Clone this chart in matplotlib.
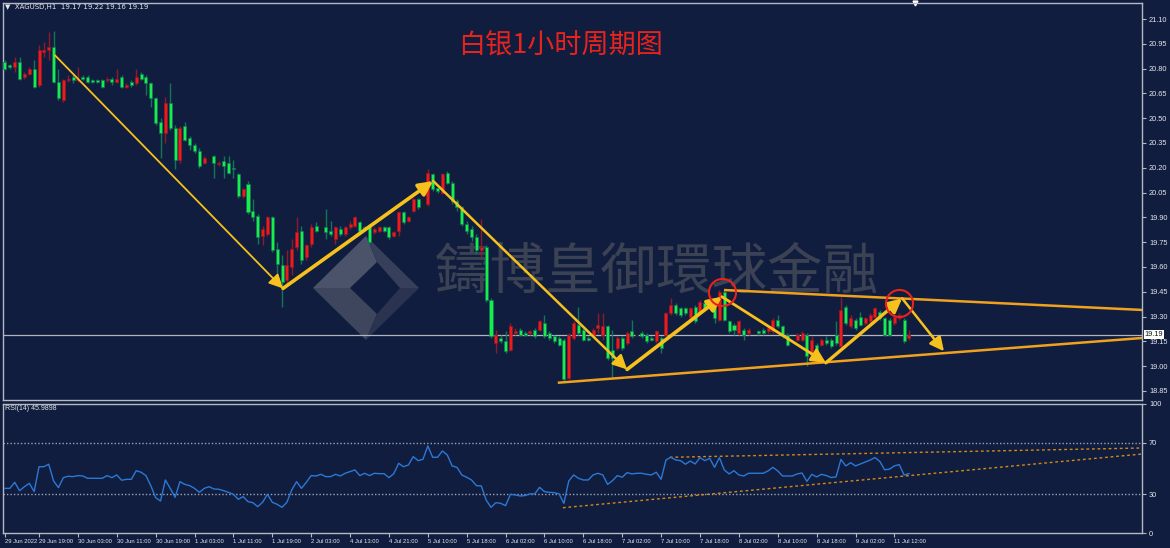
import numpy as np
import matplotlib.pyplot as plt
import matplotlib.transforms as mtransforms
from matplotlib.patches import Polygon

# ---- data (XAGUSD H1, 29 Jun - 11 Jul 2022) ----
opens = [
    20.84, 20.82, 20.81, 20.84, 20.75, 20.77, 20.80, 20.70, 20.90, 20.91,
    20.93, 20.72, 20.61, 20.73, 20.75, 20.73, 20.75, 20.75, 20.73, 20.73,
    20.73, 20.73, 20.74, 20.72, 20.75, 20.69, 20.72, 20.71, 20.77, 20.75,
    20.71, 20.62, 20.48, 20.41, 20.59, 20.44, 20.25, 20.45, 20.38, 20.34,
    20.30, 20.23, 20.26, 20.27, 20.22, 20.24, 20.23, 20.20, 20.16, 20.03,
    20.10, 19.94, 19.91, 19.79, 19.80, 19.90, 19.71, 19.61, 19.52, 19.60,
    19.72, 19.82, 19.66, 19.74, 19.85, 19.82, 19.84, 19.82, 19.77, 19.83,
    19.80, 19.84, 19.85, 19.87, 19.84, 19.85, 19.81, 19.82, 19.84, 19.84,
    19.79, 19.82, 19.93, 19.88, 19.94, 20.01, 19.99, 19.98, 20.16, 20.08,
    20.05, 20.17, 20.11, 20.00, 19.96, 19.86, 19.83, 19.78, 19.70, 19.72,
    19.40, 19.14, 19.17, 19.15, 19.10, 19.20, 19.22, 19.20, 19.20, 19.22,
    19.22, 19.26, 19.20, 19.18, 19.17, 19.16, 18.93, 19.17, 19.25, 19.22,
    19.17, 19.19, 19.23, 19.19, 19.24, 19.10, 19.11, 19.17, 19.14, 19.21,
    19.19, 19.20, 19.19, 19.17, 19.15, 19.17, 19.19, 19.32, 19.37, 19.35,
    19.35, 19.30, 19.36, 19.33, 19.38, 19.36, 19.35, 19.28, 19.45, 19.27,
    19.25, 19.20, 19.22, 19.20, 19.21, 19.21, 19.22, 19.21, 19.21, 19.28,
    19.24, 19.19, 19.15, 19.16, 19.16, 19.19, 19.07, 19.13, 19.13, 19.16,
    19.16, 19.19, 19.12, 19.36, 19.24, 19.28, 19.30, 19.26, 19.27, 19.30,
    19.33, 19.29, 19.28, 19.26, 19.29, 19.28, 19.17]
highs = [
    20.85, 20.83, 20.87, 20.87, 20.78, 20.81, 20.85, 20.94, 20.96, 21.02,
    21.03, 20.80, 20.74, 20.76, 20.77, 20.81, 20.76, 20.76, 20.74, 20.74,
    20.74, 20.75, 20.75, 20.80, 20.76, 20.71, 20.73, 20.80, 20.78, 20.76,
    20.72, 20.63, 20.50, 20.63, 20.71, 20.46, 20.45, 20.48, 20.39, 20.35,
    20.32, 20.27, 20.27, 20.28, 20.24, 20.27, 20.27, 20.25, 20.17, 20.08,
    20.12, 20.01, 19.92, 19.85, 19.91, 19.91, 19.75, 19.67, 19.70, 19.77,
    19.90, 19.85, 19.74, 19.86, 19.87, 19.91, 19.95, 19.88, 19.85, 19.85,
    19.85, 19.88, 19.91, 19.88, 19.85, 19.86, 19.84, 19.85, 19.85, 19.85,
    19.82, 19.94, 19.94, 19.91, 20.02, 20.02, 20.01, 20.19, 20.17, 20.09,
    20.17, 20.18, 20.12, 20.01, 19.97, 19.88, 19.85, 19.80, 19.89, 19.73,
    19.41, 19.22, 19.19, 19.21, 19.26, 19.23, 19.23, 19.21, 19.22, 19.23,
    19.28, 19.31, 19.21, 19.19, 19.18, 19.17, 19.20, 19.27, 19.36, 19.23,
    19.18, 19.23, 19.32, 19.32, 19.25, 19.22, 19.18, 19.18, 19.21, 19.28,
    19.20, 19.21, 19.20, 19.18, 19.22, 19.18, 19.33, 19.41, 19.38, 19.36,
    19.36, 19.36, 19.37, 19.40, 19.39, 19.43, 19.36, 19.46, 19.46, 19.28,
    19.26, 19.28, 19.23, 19.23, 19.22, 19.22, 19.23, 19.24, 19.29, 19.31,
    19.25, 19.20, 19.16, 19.20, 19.21, 19.20, 19.18, 19.14, 19.17, 19.18,
    19.17, 19.27, 19.42, 19.37, 19.31, 19.29, 19.33, 19.30, 19.32, 19.36,
    19.34, 19.30, 19.29, 19.31, 19.32, 19.29, 19.22]
lows = [
    20.79, 20.80, 20.78, 20.73, 20.74, 20.76, 20.68, 20.69, 20.87, 20.85,
    20.71, 20.61, 20.60, 20.72, 20.71, 20.72, 20.73, 20.71, 20.71, 20.71,
    20.68, 20.72, 20.70, 20.71, 20.68, 20.68, 20.69, 20.70, 20.73, 20.64,
    20.57, 20.46, 20.26, 20.35, 20.43, 20.19, 20.23, 20.36, 20.31, 20.29,
    20.20, 20.22, 20.25, 20.14, 20.21, 20.14, 20.16, 20.14, 20.02, 20.02,
    19.92, 19.88, 19.74, 19.73, 19.79, 19.69, 19.55, 19.36, 19.50, 19.55,
    19.70, 19.62, 19.64, 19.72, 19.81, 19.81, 19.77, 19.79, 19.74, 19.79,
    19.79, 19.83, 19.84, 19.81, 19.82, 19.74, 19.80, 19.81, 19.81, 19.77,
    19.78, 19.79, 19.86, 19.87, 19.93, 19.95, 19.94, 19.97, 20.06, 20.05,
    20.04, 20.10, 19.98, 19.94, 19.85, 19.80, 19.76, 19.68, 19.66, 19.39,
    19.17, 19.08, 19.14, 19.08, 19.09, 19.19, 19.18, 19.18, 19.19, 19.17,
    19.21, 19.17, 19.16, 19.14, 19.12, 18.91, 18.92, 19.16, 19.19, 19.15,
    19.15, 19.18, 19.20, 19.16, 19.04, 18.93, 19.10, 19.10, 19.13, 19.17,
    19.18, 19.17, 19.14, 19.15, 19.14, 19.08, 19.18, 19.31, 19.31, 19.30,
    19.31, 19.29, 19.26, 19.32, 19.34, 19.35, 19.26, 19.27, 19.27, 19.20,
    19.19, 19.19, 19.16, 19.19, 19.20, 19.19, 19.19, 19.20, 19.20, 19.23,
    19.17, 19.12, 19.14, 19.15, 19.15, 19.00, 19.04, 19.09, 19.12, 19.13,
    19.11, 19.13, 19.11, 19.25, 19.23, 19.22, 19.24, 19.25, 19.26, 19.29,
    19.28, 19.18, 19.18, 19.25, 19.28, 19.14, 19.16]
closes = [
    20.80, 20.81, 20.84, 20.74, 20.77, 20.80, 20.69, 20.91, 20.91, 20.93,
    20.72, 20.62, 20.73, 20.74, 20.73, 20.74, 20.74, 20.72, 20.72, 20.72,
    20.69, 20.74, 20.72, 20.74, 20.69, 20.70, 20.70, 20.75, 20.74, 20.71,
    20.62, 20.47, 20.41, 20.59, 20.44, 20.25, 20.44, 20.37, 20.34, 20.30,
    20.21, 20.26, 20.26, 20.23, 20.23, 20.21, 20.17, 20.19, 20.03, 20.07,
    19.93, 19.90, 19.78, 19.83, 19.90, 19.70, 19.62, 19.51, 19.61, 19.71,
    19.81, 19.64, 19.73, 19.84, 19.82, 19.82, 19.81, 19.80, 19.84, 19.80,
    19.84, 19.86, 19.90, 19.82, 19.83, 19.75, 19.83, 19.84, 19.82, 19.78,
    19.81, 19.93, 19.87, 19.90, 20.01, 19.96, 19.99, 20.17, 20.07, 20.06,
    20.16, 20.11, 20.00, 19.96, 19.86, 19.82, 19.78, 19.70, 19.72, 19.40,
    19.18, 19.19, 19.15, 19.09, 19.24, 19.21, 19.19, 19.19, 19.21, 19.18,
    19.27, 19.18, 19.17, 19.15, 19.13, 18.92, 19.19, 19.26, 19.20, 19.16,
    19.16, 19.22, 19.25, 19.24, 19.05, 19.05, 19.17, 19.11, 19.20, 19.18,
    19.19, 19.18, 19.15, 19.16, 19.21, 19.11, 19.32, 19.37, 19.32, 19.31,
    19.32, 19.35, 19.27, 19.39, 19.35, 19.40, 19.29, 19.45, 19.28, 19.21,
    19.22, 19.27, 19.19, 19.22, 19.21, 19.20, 19.20, 19.23, 19.28, 19.24,
    19.18, 19.13, 19.15, 19.19, 19.20, 19.06, 19.16, 19.10, 19.16, 19.14,
    19.12, 19.14, 19.34, 19.26, 19.29, 19.23, 19.25, 19.29, 19.31, 19.35,
    19.29, 19.19, 19.19, 19.30, 19.31, 19.15, 19.19]
rsi = [
    34.6, 34.6, 39.3, 32.8, 35.9, 38.5, 32.1, 51.4, 51.4, 53.3,
    40.3, 35.2, 42.9, 44.0, 43.7, 44.5, 44.2, 42.4, 42.4, 42.4,
    42.4, 44.5, 42.9, 45.0, 40.9, 41.6, 41.6, 48.3, 47.1, 44.5,
    36.7, 27.4, 24.8, 41.1, 34.6, 27.7, 39.8, 37.7, 36.7, 34.6,
    31.5, 34.6, 35.9, 34.1, 33.9, 32.8, 31.5, 30.0, 26.1, 28.2,
    24.3, 23.5, 20.4, 23.8, 30.0, 23.8, 22.2, 19.9, 23.8, 33.4,
    39.8, 34.6, 39.3, 44.5, 44.2, 45.5, 43.7, 43.7, 45.5, 44.2,
    46.3, 47.6, 48.9, 44.5, 46.3, 44.5, 46.3, 46.0, 46.0, 42.9,
    46.0, 54.0, 51.4, 52.7, 59.2, 56.1, 57.1, 67.5, 58.7, 58.7,
    63.6, 60.5, 52.0, 50.9, 45.0, 43.2, 41.1, 36.7, 36.5, 25.6,
    19.9, 23.5, 23.0, 21.2, 30.0, 29.5, 28.7, 29.0, 30.3, 30.3,
    35.4, 32.1, 31.5, 31.3, 30.3, 23.0, 40.3, 45.0, 42.4, 41.1,
    41.1, 45.0, 46.3, 45.0, 37.7, 40.6, 44.5, 43.2, 46.8, 45.8,
    46.3, 46.3, 45.5, 45.0, 47.1, 41.6, 56.6, 58.7, 56.6, 56.1,
    53.3, 55.8, 53.5, 58.4, 56.1, 57.9, 50.9, 58.4, 48.9, 45.8,
    48.3, 45.0, 44.2, 46.3, 46.3, 46.3, 46.3, 48.1, 50.9, 48.1,
    44.2, 44.2, 44.2, 45.8, 46.5, 40.0, 45.5, 43.5, 45.5, 44.5,
    43.0, 43.5, 57.0, 52.0, 54.5, 52.0, 53.5, 55.0, 56.5, 58.5,
    55.5, 49.0, 49.5, 52.0, 53.0, 45.0, 46.0]

time_tick_pos = [0, 7, 15, 23, 31, 39, 47, 55, 63, 71, 79, 87, 95, 103,
                 111, 119, 127, 135, 143, 151, 159, 167, 175, 183]
time_tick_labels = ["29 Jun 2022", "29 Jun 19:00", "30 Jun 03:00", "30 Jun 11:00",
                    "30 Jun 19:00", "1 Jul 03:00", "1 Jul 11:00", "1 Jul 19:00",
                    "2 Jul 03:00", "4 Jul 13:00", "4 Jul 21:00", "5 Jul 10:00",
                    "5 Jul 18:00", "6 Jul 02:00", "6 Jul 10:00", "6 Jul 18:00",
                    "7 Jul 02:00", "7 Jul 10:00", "7 Jul 18:00", "8 Jul 02:00",
                    "8 Jul 10:00", "8 Jul 18:00", "9 Jul 02:00", "11 Jul 12:00"]
price_ticks = [18.85, 19.00, 19.15, 19.30, 19.45, 19.60, 19.75, 19.90,
               20.05, 20.20, 20.35, 20.50, 20.65, 20.80, 20.95, 21.10]
rsi_ticks = [0, 30, 70, 100]
last_price = 19.19

# hand-drawn analysis on the chart (bar index, price)
zig_x = [10.3, 57.2, 88.1, 128.0, 147.5, 168.9, 184.6, 193.2]
zig_y = [20.88, 19.47, 20.12, 18.98, 19.42, 19.02, 19.41, 19.09]
zig_lw = [1.3, 2.6, 1.8, 2.6, 2.0, 2.4, 1.8]
circle_x = [147.5, 184.0]
circle_y = [19.45, 19.38]
upper_x, upper_y = [148.2, 233.9], [19.46, 19.34]
lower_x, lower_y = [114.0, 233.9], [18.90, 19.17]
rsi_up_x, rsi_up_y = [136.8, 233.9], [58.7, 65.9]
rsi_lo_x, rsi_lo_y = [114.8, 233.9], [19.6, 61.2]

# ---- styling ----
BG = "#111d3e"
FRAME = "#b4b9c4"
TXT = "#e4e7ee"
UP_BODY, UP_WICK = "#f01a1a", "#8e1a2a"
DN_BODY, DN_WICK = "#17ee4b", "#127556"
ARROW = "#f6c11c"
ORANGE = "#f0a21e"
SMALL = ["Liberation Sans", "DejaVu Sans"]

W, H = 1170, 548


def rect(l, t, r, b):
    return [l / W, 1 - b / H, (r - l) / W, (b - t) / H]


fig = plt.figure(figsize=(W / 100, H / 100), dpi=100)
fig.patch.set_facecolor(BG)

# background layer in pixel coordinates (watermark, title, headers)
bg = fig.add_axes([0, 0, 1, 1])
bg.set_xlim(0, W)
bg.set_ylim(H, 0)
bg.axis("off")

ax = fig.add_axes(rect(3, 3, 1142, 400))
ax2 = fig.add_axes(rect(3, 404, 1142, 533), sharex=ax)
for a in (ax, ax2):
    a.set_facecolor("none")
    for s in a.spines.values():
        s.set_color(FRAME)
        s.set_linewidth(1)

# watermark logo + text
outer = dict(L=(313, 288), T=(366, 236), R=(419, 288), B=(366, 340))
inner = dict(L=(350, 288), T=(377, 262), R=(400, 288), B=(377, 314))
pieces = [
    ([outer["L"], outer["T"], inner["T"], inner["L"]], "#4a536a"),
    ([outer["L"], inner["L"], inner["B"], outer["B"]], "#3d465c"),
    ([outer["T"], outer["R"], inner["R"], inner["T"]], "#37405a"),
    ([inner["B"], inner["R"], outer["R"], outer["B"]], "#2a3350"),
]
for pts, col in pieces:
    bg.add_patch(Polygon(pts, closed=True, facecolor=col, edgecolor="none"))
bg.text(657, 273, "鑄博皇御環球金融", fontsize=40, color="#3b4254",
        family=["Noto Sans CJK TC", "DejaVu Sans"], ha="center", va="center")

bg.text(561, 46, "白银1小时周期图", fontsize=19.5, color="#e8231c",
        family=["Noto Sans CJK SC", "DejaVu Sans"], ha="center", va="center")
bg.text(5, 7, "\u25bc  XAGUSD,H1  19.17 19.22 19.16 19.19", fontsize=5,
        color=TXT, family=["DejaVu Sans"], ha="left", va="center")
bg.text(5, 409, "RSI(14) 45.9898", fontsize=5, color=TXT, family=SMALL,
        ha="left", va="center")
bg.plot([915], [3], marker="v", color="white", ms=3.5)

# ---- candles ----
x = np.arange(len(closes))
o, h, l, c = map(np.array, (opens, highs, lows, closes))
up, dn, fl = c > o, c < o, c == o

ax.axhline(last_price, color="#b0b4bc", lw=0.9, zorder=1)

ax.vlines(x[up], l[up], h[up], color=UP_WICK, lw=1, zorder=2)
ax.vlines(x[dn], l[dn], h[dn], color=DN_WICK, lw=1, zorder=2)
ax.vlines(x[fl], l[fl], h[fl], color="#1c1c1c", lw=1, zorder=2)
ax.bar(x[up], c[up] - o[up], bottom=o[up], width=0.62, color=UP_BODY,
       edgecolor=UP_WICK, lw=0.5, zorder=3)
ax.bar(x[dn], o[dn] - c[dn], bottom=c[dn], width=0.62, color=DN_BODY,
       edgecolor=DN_WICK, lw=0.5, zorder=3)
ax.hlines(o[fl], x[fl] - 0.35, x[fl] + 0.35, color="#1c1c1c", lw=1, zorder=3)

# trend lines and zigzag arrows
ax.plot(upper_x, upper_y, color=ORANGE, lw=1.8, zorder=4)
ax.plot(lower_x, lower_y, color=ORANGE, lw=1.8, zorder=4)
for k in range(len(zig_x) - 1):
    ax.annotate("", xy=(zig_x[k + 1], zig_y[k + 1]), xytext=(zig_x[k], zig_y[k]),
                arrowprops=dict(arrowstyle="-|>,head_length=0.7,head_width=0.35",
                                color=ARROW, lw=zig_lw[k], shrinkA=0, shrinkB=0,
                                mutation_scale=12),
                zorder=5)
ax.plot(circle_x, circle_y, "o", ms=19.5, mfc="none", mec="#e8231c", mew=1.5,
        zorder=6)

ax.set_xlim(-0.41, 233.95)
ax.set_ylim(18.795, 21.197)
ax.yaxis.tick_right()
ax.set_yticks(price_ticks, [f"{v:.2f}" for v in price_ticks])
ax.tick_params(axis="y", colors=FRAME, labelcolor=TXT, labelsize=5.3,
               length=3, width=0.8, pad=2)
ax.tick_params(axis="x", bottom=False, labelbottom=False)
for lab in ax.get_yticklabels():
    lab.set_family(SMALL)

trans = mtransforms.blended_transform_factory(ax.transAxes, ax.transData)
ax.text(1.0025, last_price, f"{last_price:.2f}", transform=trans, fontsize=5.3,
        color="#111111", family=SMALL, ha="left", va="center", zorder=7,
        clip_on=False,
        bbox=dict(boxstyle="square,pad=0.15", fc="white", ec="none"))

# ---- RSI panel ----
ax2.axhline(70, color="#9aa3b5", lw=1, ls=(0, (1, 1.5)))
ax2.axhline(30, color="#9aa3b5", lw=1, ls=(0, (1, 1.5)))
ax2.plot(x, rsi, color="#2b78d6", lw=1, zorder=3)
ax2.plot(rsi_up_x, rsi_up_y, color="#d48a18", lw=1, ls=(0, (2, 2)), zorder=2)
ax2.plot(rsi_lo_x, rsi_lo_y, color="#d48a18", lw=1, ls=(0, (2, 2)), zorder=2)
ax2.set_ylim(0, 100)
ax2.yaxis.tick_right()
ax2.set_yticks(rsi_ticks, [str(v) for v in rsi_ticks])
ax2.tick_params(axis="y", colors=FRAME, labelcolor=TXT, labelsize=5.3,
                length=3, width=0.8, pad=2)
ax2.set_xticks(time_tick_pos, time_tick_labels)
ax2.tick_params(axis="x", colors=FRAME, labelcolor=TXT, labelsize=4.2,
                length=3, width=0.8, pad=1.5)
for lab in ax2.get_xticklabels():
    lab.set_horizontalalignment("left")
    lab.set_family(SMALL)
for lab in ax2.get_yticklabels():
    lab.set_family(SMALL)

fig.savefig("out.png", dpi=100, facecolor=BG)
